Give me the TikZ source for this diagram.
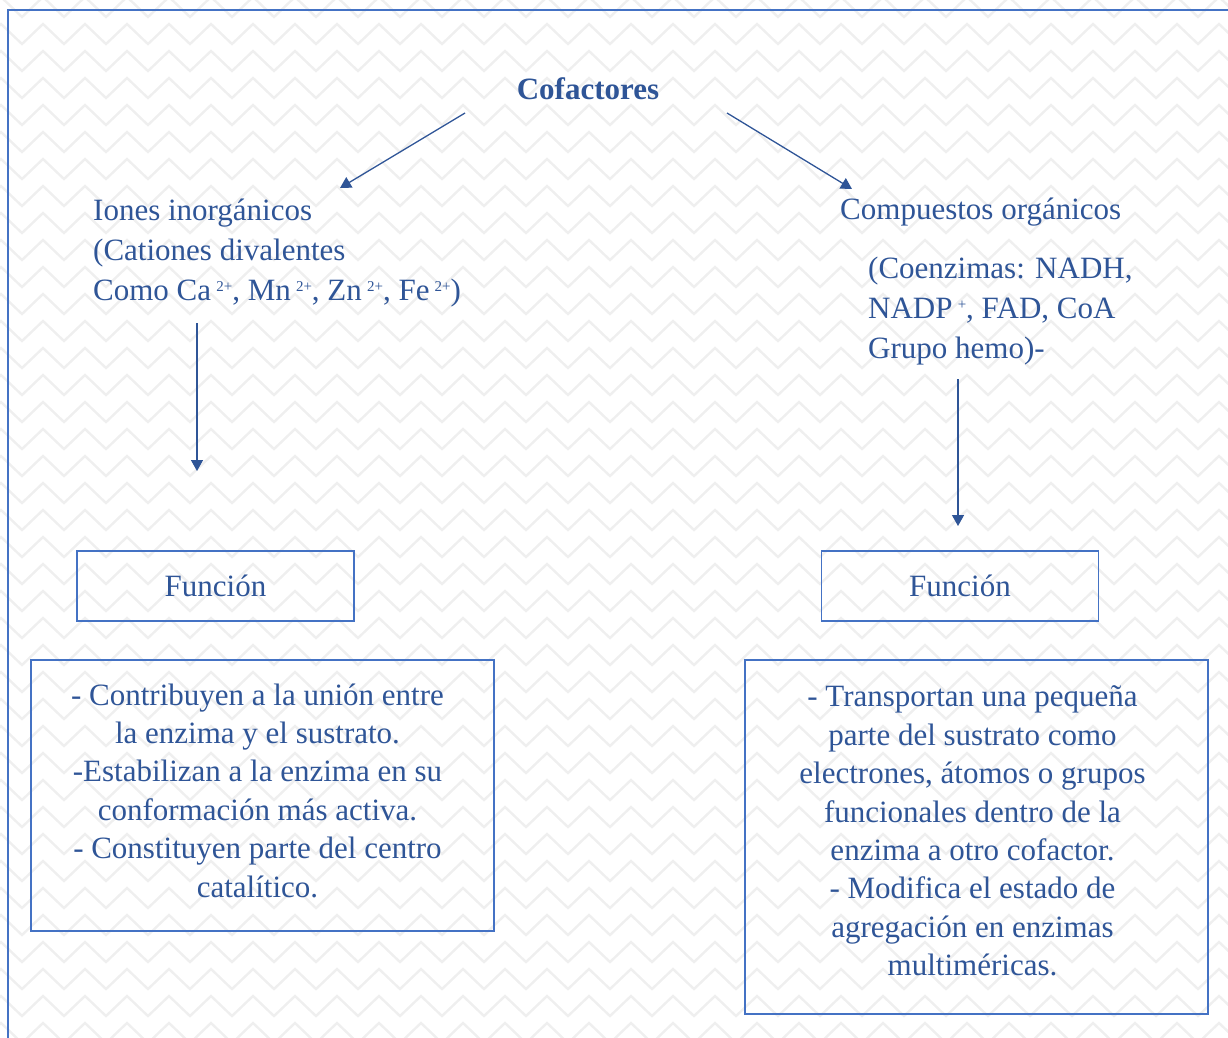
\documentclass[tikz,border=0pt]{standalone}
\usepackage{fontspec}
\setmainfont{Liberation Serif}
\usepackage{xcolor}
\usepackage{tikz}
\usetikzlibrary{arrows.meta,positioning}

\definecolor{txtblue}{RGB}{47,85,151}
\definecolor{boxblue}{RGB}{68,114,196}
\definecolor{zigzag}{RGB}{239,239,239}
\newcommand{\carga}[1]{\raisebox{0.6ex}{\fontsize{15}{15}\selectfont #1}}

\begin{document}
\begin{tikzpicture}[x=1pt, y=-1pt,
  every node/.style={font=\fontsize{31}{40}\selectfont, text=txtblue, inner sep=0pt},
  flecha/.style={draw=txtblue, line width=1.3pt, -{Triangle[length=11pt,width=12pt]}},
  caja/.style={draw=boxblue, line width=1.2pt, align=center},
  texto/.style={align=center, font=\fontsize{31}{38.4}\selectfont}]
\useasboundingbox (0,0) rectangle (1228,1037);
% fondo en zigzag
\foreach \r in {0,...,40} {
  \pgfmathsetmacro{\y}{\r*27-10}
  \draw[zigzag, line width=2.4pt] (-20,\y) \foreach \k in {0,...,30} { -- ++(21,-20) -- ++(21,20) };
}
\draw[boxblue, line width=1.5pt] (8,1045) -- (8,10) -- (1235,10);

\node[font=\bfseries\fontsize{31}{40}\selectfont] (cof) at (588,89) {Cofactores};
\node[anchor=base west, align=left] (ion) at (93,300)
  {Iones inorgánicos\\(Cationes divalentes\\Como Ca\,\carga{2+}, Mn\,\carga{2+}, Zn\,\carga{2+}, Fe\,\carga{2+})};
\node[anchor=base west] (org) at (840,219) {Compuestos orgánicos};
\node[anchor=base west, align=left] (coenz) at (868,358)
  {(Coenzimas: NADH,\\NADP\,\carga{+}, FAD, CoA\\Grupo hemo)-};

\node[caja, minimum width=277pt, minimum height=70pt] (fun1) at (215.5,586) {Función};
\node[caja, minimum width=277pt, minimum height=70pt] (fun2) at (960,586) {Función};

\node[caja, minimum width=463pt, minimum height=271pt] (desc1) at (262.5,795.5) {};
\node[texto] (txt1) at ([xshift=-5pt, yshift=5pt]desc1.center)
  {- Contribuyen a la unión entre\\la enzima y el sustrato.\\-Estabilizan a la enzima en su\\conformación más activa.\\- Constituyen parte del centro\\catalítico.};
\node[caja, minimum width=463pt, minimum height=354pt] (desc2) at (976.5,837) {};
\node[texto] (txt2) at ([xshift=-4pt, yshift=6pt]desc2.center)
  {- Transportan una pequeña\\parte del sustrato como\\electrones, átomos o grupos\\funcionales dentro de la\\enzima a otro cofactor.\\- Modifica el estado de\\agregación en enzimas\\multiméricas.};

% extremos de las flechas
\coordinate (c1) at (465,113);
\coordinate (c2) at (340,188);
\coordinate (c3) at (727,113);
\coordinate (c4) at (852,189);
\coordinate (c5) at (197,323);
\coordinate (c6) at (197,471);
\coordinate (c7) at (958,379);
\coordinate (c8) at (958,526);
\draw[flecha] (c1) -- (c2);
\draw[flecha] (c3) -- (c4);
\draw[flecha] (c5) -- (c6);
\draw[flecha] (c7) -- (c8);
\end{tikzpicture}
\end{document}
